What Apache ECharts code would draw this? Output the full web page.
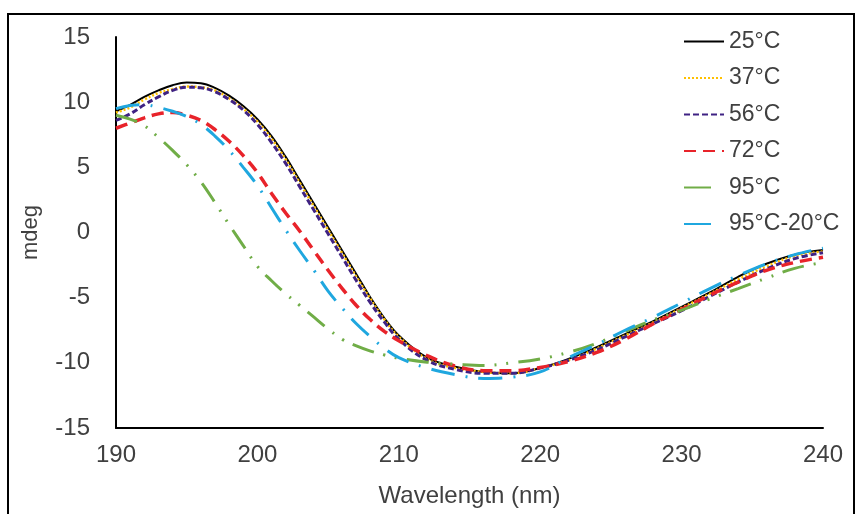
<!DOCTYPE html>
<html>
<head>
<meta charset="utf-8">
<script src="https://cdn.jsdelivr.net/npm/echarts@6/dist/echarts.min.js"></script>
<style>
  html, body { margin: 0; padding: 0; background: #fff; }
  #chart { width: 855px; height: 514px; }
</style>
</head>
<body>
<div id="chart"></div>
<script>
const wavelengths = [190,191,192,193,194,195,196,197,198,199,200,201,202,203,204,205,206,207,208,209,210,212,214,216,218,220,222,224,226,228,230,232,234,236,238,240];
const seriesNames = ['25°C', '37°C', '56°C', '72°C', '95°C', '95°C-20°C'];
const v25 = [9.3,9.8,10.4,10.9,11.3,11.5,11.45,11.1,10.5,9.7,8.7,7.4,5.8,4.0,2.2,0.4,-1.4,-3.2,-5.0,-6.6,-7.9,-9.6,-10.3,-10.7,-10.8,-10.4,-9.7,-8.8,-7.8,-6.8,-5.7,-4.6,-3.4,-2.4,-1.7,-1.35];
const v37 = [9.2,9.6,10.2,10.7,11.0,11.2,11.15,10.9,10.3,9.5,8.5,7.2,5.6,3.8,2.0,0.2,-1.6,-3.4,-5.1,-6.7,-8.0,-9.7,-10.4,-10.7,-10.8,-10.4,-9.8,-8.9,-7.9,-6.9,-5.8,-4.7,-3.6,-2.6,-1.8,-1.45];
const v56 = [8.6,9.1,9.8,10.4,10.9,11.15,11.1,10.8,10.2,9.4,8.3,6.9,5.3,3.5,1.7,-0.1,-1.9,-3.7,-5.4,-6.9,-8.2,-9.8,-10.5,-10.8,-10.8,-10.4,-9.8,-9.0,-8.0,-7.0,-6.0,-4.9,-3.8,-2.8,-2.0,-1.55];
const v72 = [8.0,8.4,8.8,9.1,9.2,9.0,8.6,7.9,7.0,5.9,4.6,3.0,1.5,0.1,-1.4,-2.9,-4.3,-5.6,-6.7,-7.6,-8.3,-9.45,-10.25,-10.6,-10.6,-10.35,-9.9,-9.2,-8.2,-7.0,-5.9,-4.8,-3.8,-2.9,-2.3,-1.9];
const v95 = [9.0,8.7,8.2,7.3,6.3,5.2,3.9,2.3,0.6,-1.0,-2.6,-3.7,-4.7,-5.6,-6.5,-7.4,-8.2,-8.7,-9.1,-9.4,-9.65,-9.95,-10.1,-10.2,-10.0,-9.7,-9.2,-8.5,-7.6,-6.7,-5.95,-5.1,-4.3,-3.5,-2.75,-2.3];
const v9520 = [9.5,9.75,9.8,9.6,9.3,8.9,8.3,7.4,6.3,5.0,3.6,1.9,0.2,-1.4,-2.9,-4.5,-5.8,-7.0,-8.0,-8.9,-9.6,-10.4,-10.9,-11.2,-11.1,-10.7,-9.6,-8.6,-7.5,-6.5,-5.4,-4.3,-3.3,-2.4,-1.7,-1.2];
const xTicks = [190, 200, 210, 220, 230, 240];
const yTicks = [-15, -10, -5, 0, 5, 10, 15];

const allValues = [v25, v37, v56, v72, v95, v9520];
const styles = [
  { color: '#000000', width: 2, type: 'solid' },
  { color: '#FFC000', width: 2.5, type: [2, 2] },
  { color: '#3F2283', width: 3, type: [6, 3] },
  { color: '#E8232A', width: 3.5, type: [12, 7] },
  { color: '#70AD47', width: 3, type: [22, 10, 2, 10, 2, 10] },
  { color: '#1FA7DF', width: 3, type: [24, 11, 2, 11] }
];
const legendStyles = [
  null, null, null, null,
  { type: [27, 60] },
  { type: [27, 60] }
];

const font = 'Liberation Sans, Arial, sans-serif';
const textColor = '#404040';

const series = seriesNames.map((name, i) => ({
  name: name,
  type: 'line',
  smooth: 0.4,
  symbol: 'none',
  data: wavelengths.map((w, j) => [w, allValues[i][j]]),
  lineStyle: { color: styles[i].color, width: styles[i].width, type: styles[i].type, cap: 'butt' },
  itemStyle: { color: styles[i].color },
  z: 2 + i
}));

const chart = echarts.init(document.getElementById('chart'), null, { renderer: 'canvas' });
chart.setOption({
  animation: false,
  backgroundColor: '#ffffff',
  grid: { left: 116, right: 32, top: 37, bottom: 86, containLabel: false },
  xAxis: {
    type: 'value', min: xTicks[0], max: xTicks[xTicks.length - 1], interval: 10,
    name: 'Wavelength (nm)', nameLocation: 'middle', nameGap: 56,
    nameTextStyle: { fontFamily: font, fontSize: 24, color: textColor },
    axisLine: { show: true, onZero: false, lineStyle: { color: '#000', width: 2 } },
    axisTick: { show: false },
    splitLine: { show: false },
    axisLabel: { fontFamily: font, fontSize: 24, color: textColor, margin: 15 }
  },
  yAxis: {
    type: 'value', min: yTicks[0], max: yTicks[yTicks.length - 1], interval: 5,
    name: 'mdeg', nameLocation: 'middle', nameGap: 74, nameRotate: 90,
    nameTextStyle: { fontFamily: font, fontSize: 22, color: textColor },
    axisLine: { show: true, onZero: false, lineStyle: { color: '#000', width: 2 } },
    axisTick: { show: false },
    splitLine: { show: false },
    axisLabel: { fontFamily: font, fontSize: 24, color: textColor, margin: 26 }
  },
  legend: {
    orient: 'vertical', left: 683, top: 30, padding: 0,
    itemWidth: 40, itemHeight: 14, itemGap: 13.5,
    itemStyle: { opacity: 0 },
    textStyle: { fontFamily: font, fontSize: 23, color: textColor, lineHeight: 23 },
    data: seriesNames.map((n, i) => legendStyles[i] ? { name: n, lineStyle: legendStyles[i] } : { name: n })
  },
  graphic: [{
    type: 'rect', silent: true, z: 100,
    shape: { x: 8, y: 14, width: 846, height: 520 },
    style: { fill: null, stroke: '#000', lineWidth: 2 }
  }],
  series: series
});
</script>
</body>
</html>
